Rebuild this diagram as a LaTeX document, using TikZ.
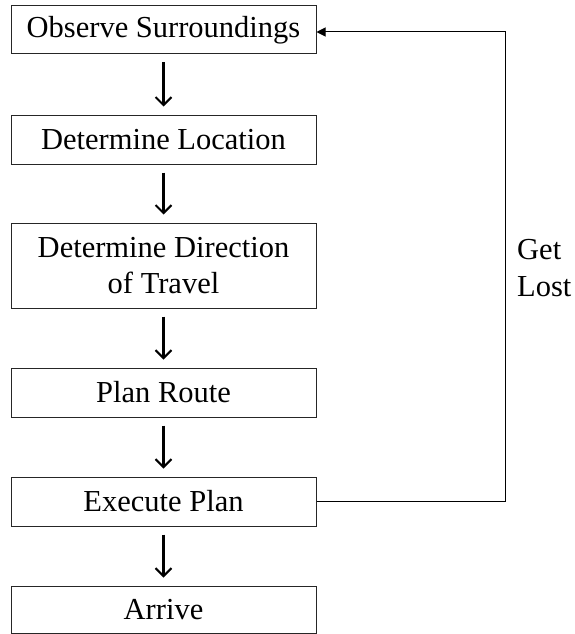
\documentclass[tikz,border=0pt]{standalone}
\usepackage{fontspec}
\setmainfont{Liberation Serif}
\usetikzlibrary{arrows.meta}
\begin{document}
\begin{tikzpicture}[x=1pt,y=-1pt,
  box/.style={draw=black!85,line width=1pt,minimum width=305pt,inner sep=0pt,
    align=center,font=\fontsize{30.5}{36.6}\selectfont},
  flow/.style={line width=2.1pt,-{Straight Barb[length=8pt,width=16pt,line width=2.1pt]},shorten <=8pt,shorten >=8pt},
  back/.style={line width=1pt,-{Triangle[length=9pt,width=9pt]}}]
\useasboundingbox (0,0) rectangle (575,634);
\node[box,minimum height=48pt] (b1) at (163.5,30) {Observe Surroundings};
\node[box,minimum height=49pt] (b2) at (163.5,139.5) {Determine Location};
\node[box,minimum height=85pt] (b3) at (163.5,265.5) {Determine Direction\\of Travel};
\node[box,minimum height=49pt] (b4) at (163.5,392.5) {Plan Route};
\node[box,minimum height=49pt] (b5) at (163.5,501.5) {Execute Plan};
\node[box,minimum height=47pt] (b6) at (163.5,609.5) {Arrive};
\draw[flow] (b1) -- (b2);
\draw[flow] (b2) -- (b3);
\draw[flow] (b3) -- (b4);
\draw[flow] (b4) -- (b5);
\draw[flow] (b5) -- (b6);
\coordinate (c1) at (505,501.5);
\coordinate (c2) at (505,32);
\draw[back] (b5.east) -- (c1) -- (c2) -- (b1.east |- c2);
\node[anchor=west,align=left,inner sep=0pt,font=\fontsize{30.5}{36.6}\selectfont] (gl) at (517,268) {Get\\Lost};
\end{tikzpicture}
\end{document}
